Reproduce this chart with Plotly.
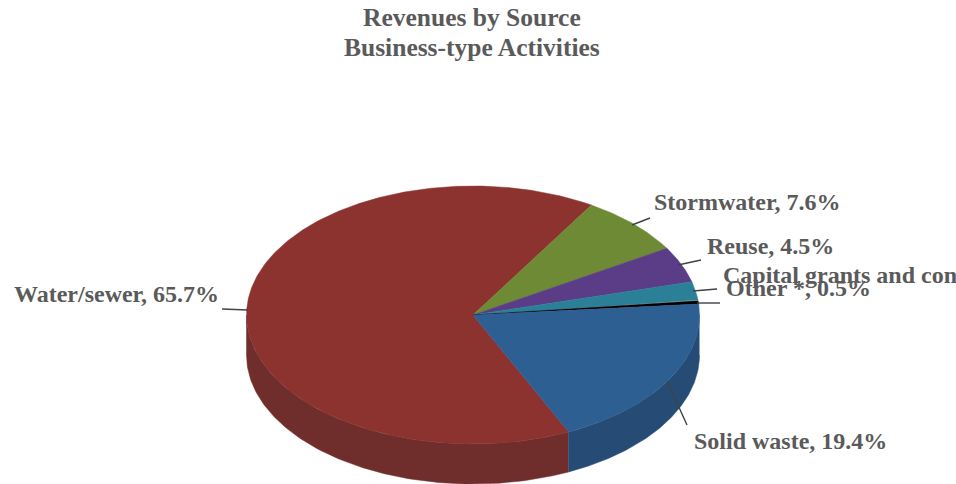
import numpy as np
import plotly.graph_objects as go

# Revenue shares, in percent, clockwise from the Water/sewer slice
categories = ["Water/sewer", "Stormwater", "Reuse",
              "Capital grants and contributions", "Other *", "Solid waste"]
shares = [65.7, 7.6, 4.5, 2.3, 0.5, 19.4]
slice_labels = ["Water/sewer, 65.7%", "Stormwater, 7.6%", "Reuse, 4.5%",
                "Capital grants and contributions, 2.3%", "Other *, 0.5%",
                "Solid waste, 19.4%"]

top_colors = ["#8c3330", "#6f8a35", "#5a3c87", "#2b8098", "#000000", "#2e5f92"]
side_colors = ["#6f2e2c", "#566b29", "#462f69", "#216376", "#000000", "#264c76"]

# Tilted pie geometry, in page pixels
CX, CY = 473.0, 315.0
RX, RY = 226.5, 129.0
DEPTH = 40.0
START_DEG = 155.0

label_pos = [(12, 294), (652, 202), (705, 246), (721, 275), (724, 288), (692, 441)]
leader_ends = [((222, 309), (248, 310)), ((632, 225), (650, 218)),
               ((678, 265), (701, 260)), ((693, 291), (717, 289)),
               ((697, 303), (720, 303)), ((667, 381), (687, 425))]


def rim(theta_deg, drop=0.0):
    t = np.radians(theta_deg)
    return CX + RX * np.sin(t), CY - RY * np.cos(t) + drop


fig = go.Figure()
edges = START_DEG + np.concatenate([[0], np.cumsum(shares)]) * 3.6


def add_poly(xs, ys, color):
    fig.add_trace(go.Scatter(x=xs, y=ys, mode="lines", fill="toself",
                             fillcolor=color, line=dict(color=color, width=0.5),
                             hoverinfo="skip", showlegend=False))


# Outer wall: only the part of the rim that faces the viewer
for a, b, col in zip(edges[:-1], edges[1:], side_colors):
    for lo, hi in ((a, b), (a + 360, b + 360), (a - 360, b - 360)):
        lo2, hi2 = max(lo, 90), min(hi, 270)
        if hi2 <= lo2:
            continue
        th = np.linspace(lo2, hi2, 120)
        x1, y1 = rim(th)
        x2, y2 = rim(th[::-1], DEPTH)
        add_poly(np.r_[x1, x2], np.r_[y1, y2], col)

# Top face
for a, b, col in zip(edges[:-1], edges[1:], top_colors):
    th = np.linspace(a, b, max(int(b - a) * 2, 12))
    x, y = rim(th)
    add_poly(np.r_[CX, x, CX], np.r_[CY, y, CY], col)

# Leader lines
for (p, q) in leader_ends:
    fig.add_trace(go.Scatter(x=[p[0], q[0]], y=[p[1], q[1]], mode="lines",
                             line=dict(color="#3f4347", width=1.4),
                             hoverinfo="skip", showlegend=False))

label_font = dict(family="Liberation Serif", size=24, color="#5a5a5a")
title_font = dict(family="Liberation Serif", size=25.5, color="#5a5a5a")
for text, (lx, ly) in zip(slice_labels, label_pos):
    fig.add_annotation(x=lx, y=ly, text=f"<b>{text}</b>", showarrow=False,
                       xanchor="left", yanchor="middle", font=label_font, align="left")

for text, ty in (("Revenues by Source", 17), ("Business-type Activities", 47)):
    fig.add_annotation(x=472, y=ty, text=f"<b>{text}</b>", showarrow=False,
                       xanchor="center", yanchor="middle", font=title_font)

fig.update_xaxes(range=[0, 956], visible=False, fixedrange=True)
fig.update_yaxes(range=[484, 0], visible=False, fixedrange=True)
fig.update_layout(width=956, height=484, margin=dict(l=0, r=0, t=0, b=0),
                  paper_bgcolor="white", plot_bgcolor="white")
fig.write_html("out.html", config={"displayModeBar": False})
